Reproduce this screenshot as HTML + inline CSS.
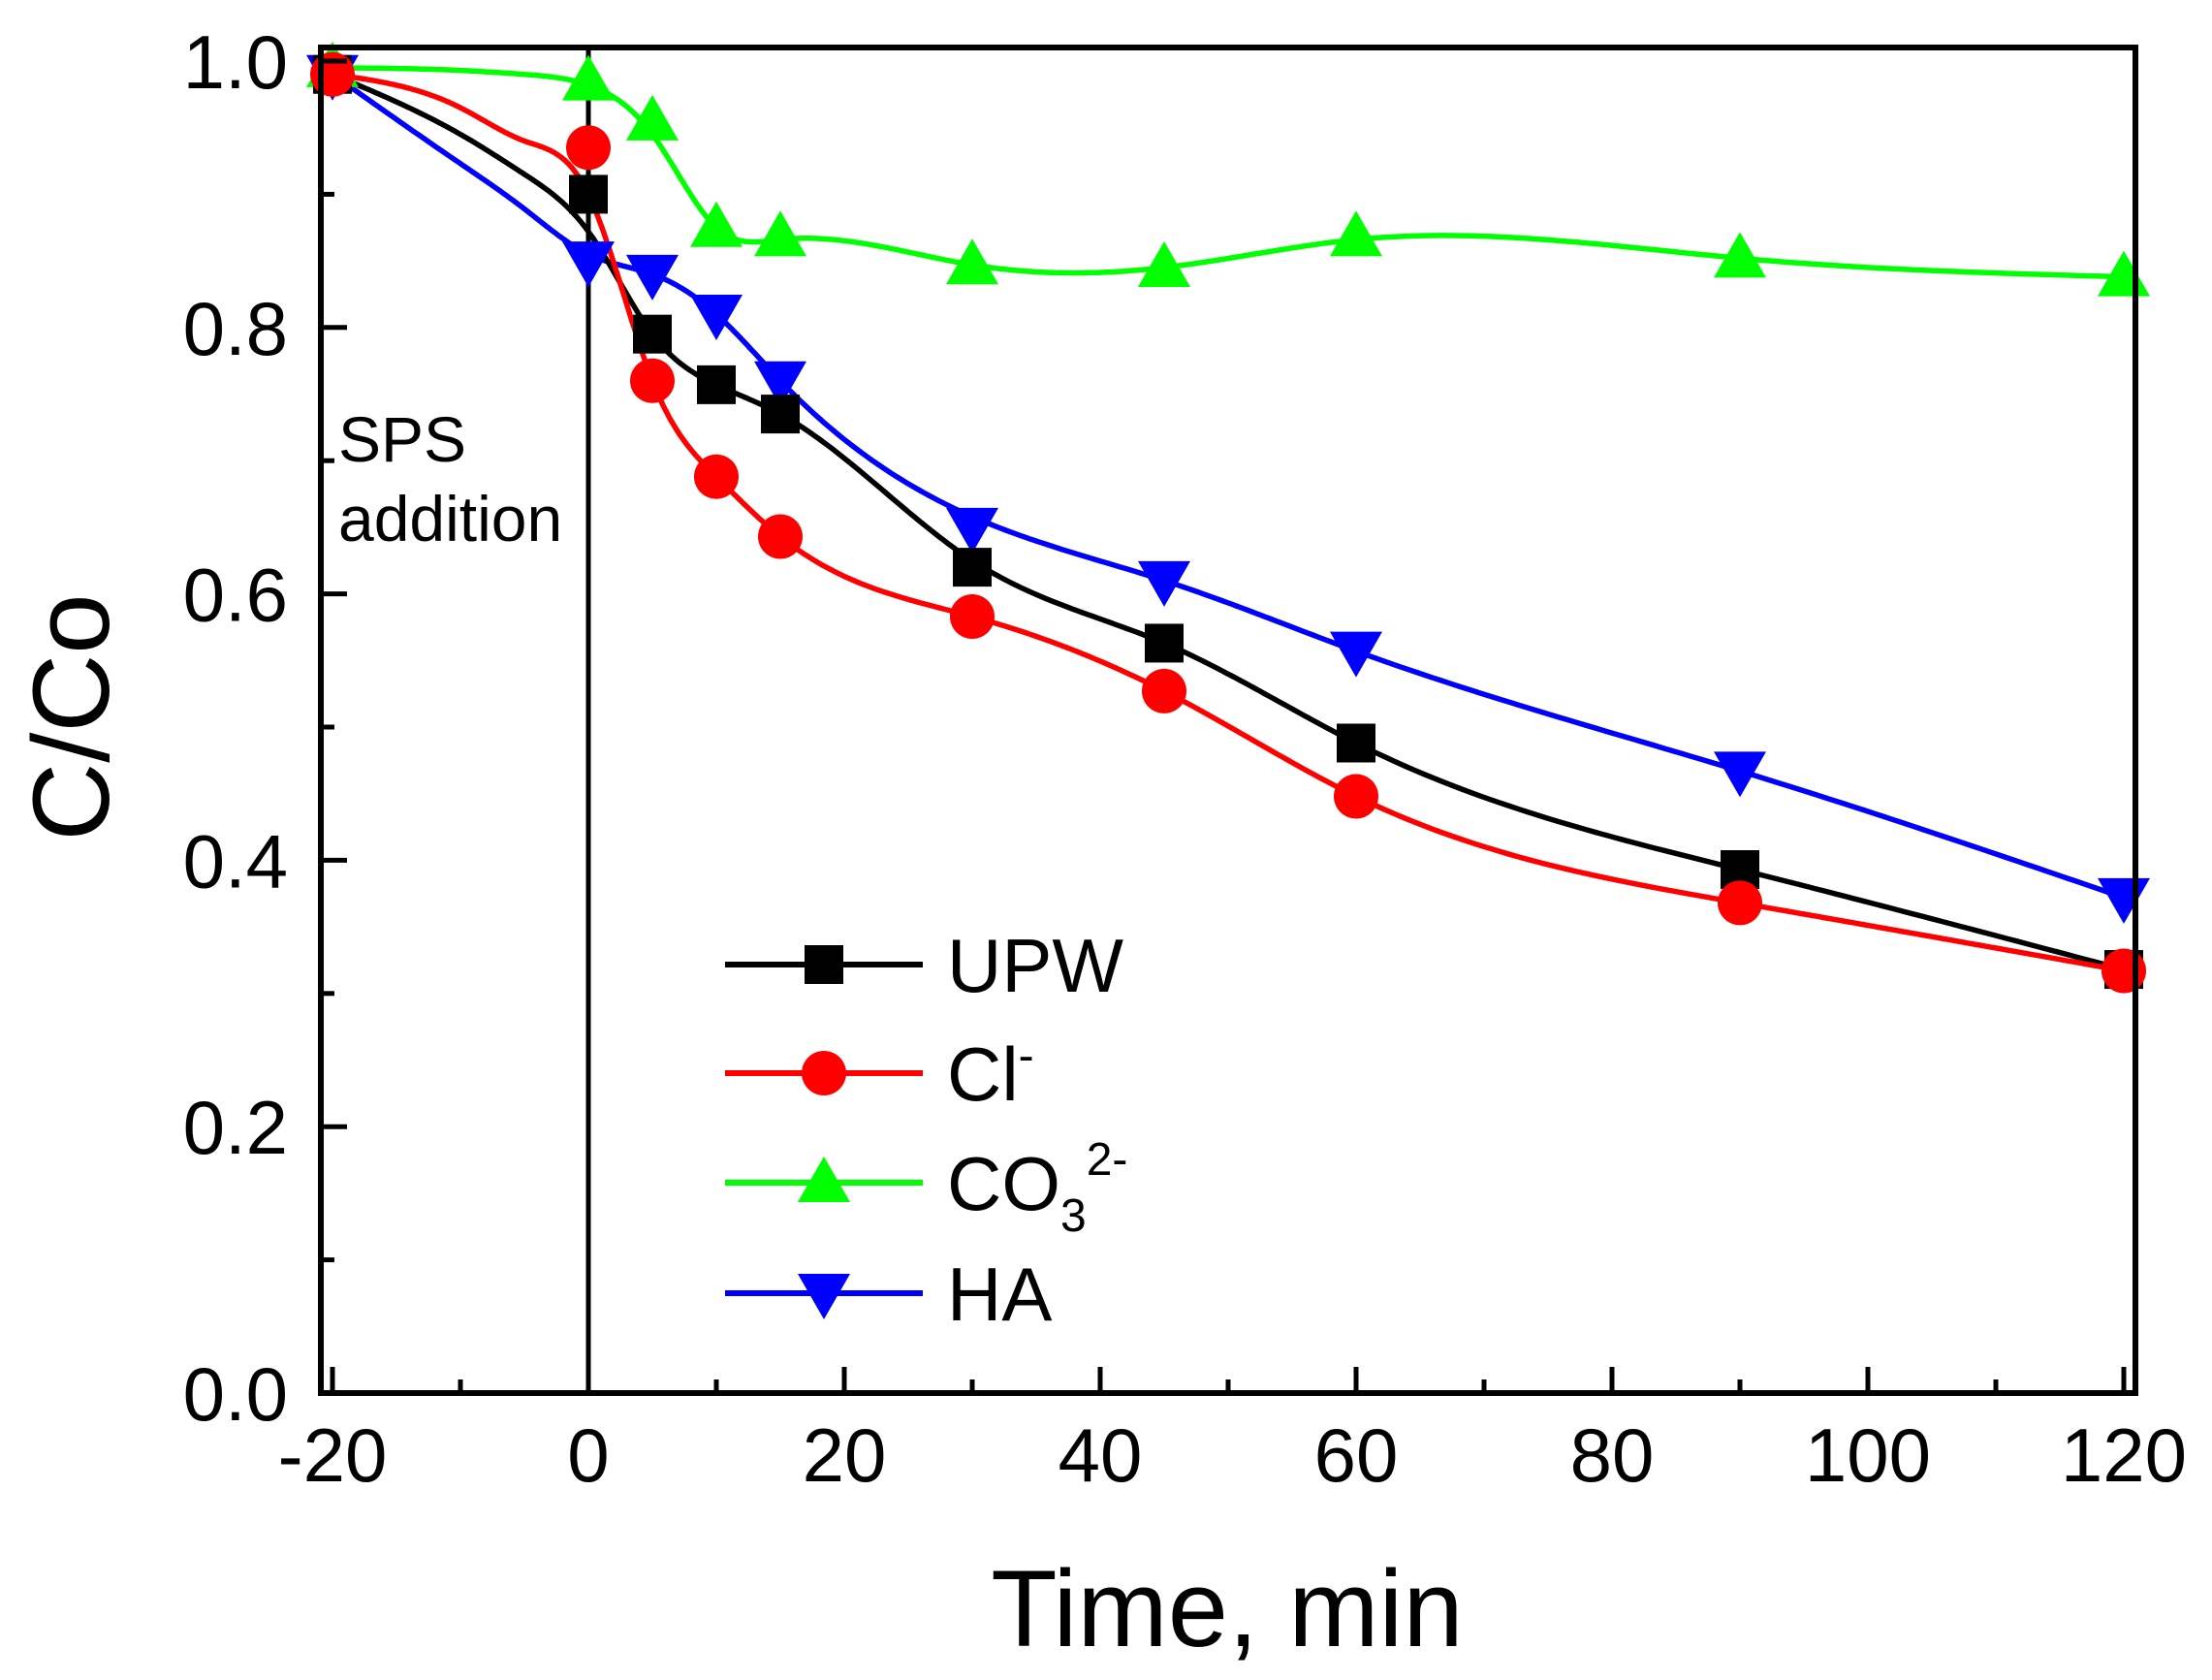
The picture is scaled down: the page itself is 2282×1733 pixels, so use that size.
<!DOCTYPE html>
<html><head><meta charset="utf-8"><style>
html,body{margin:0;padding:0;background:#fff;}
svg{display:block;font-family:"Liberation Sans",Arial,sans-serif;}
</style></head><body>
<svg id="s" width="2282" height="1733" viewBox="0 0 2282 1733" xmlns="http://www.w3.org/2000/svg"></svg>
<script>
const s=document.getElementById('s');
const X=t=>607+13.2*t, Y=v=>1437-1374*v;
let h='';
const ts=[-20,0,5,10,15,30,45,60,90,120];
const cts=[-20,-10,-5,0,5,10,15,30,45,60,90,120];
const S=[
 {c:'#000',m:'sq',v:[0.99,0.90,0.795,0.757,0.735,0.62,0.563,0.488,0.393,0.318],cv:[0.99,0.945,0.915,0.872,0.795,0.757,0.735,0.625,0.563,0.488,0.393,0.318]},
 {c:'#f00',m:'ci',v:[0.99,0.935,0.76,0.688,0.643,0.583,0.527,0.448,0.368,0.317],cv:[0.99,0.965,0.94,0.90,0.76,0.688,0.643,0.583,0.527,0.448,0.368,0.317]},
 {c:'#0f0',m:'up',v:[0.995,0.985,0.955,0.875,0.868,0.847,0.845,0.868,0.852,0.838],cv:[0.995,0.993,0.99,0.982,0.945,0.875,0.866,0.847,0.845,0.866,0.852,0.838]},
 {c:'#00f',m:'dn',v:[0.99,0.85,0.84,0.81,0.76,0.65,0.61,0.557,0.467,0.372],cv:[0.99,0.923,0.889,0.855,0.84,0.81,0.76,0.658,0.61,0.557,0.467,0.372]}
];
function spline(xs,ys){
 const n=xs.length,hh=[],al=[],l=[1],mu=[0],z=[0],c=new Array(n).fill(0),b=[],d=[];
 for(let i=0;i<n-1;i++)hh[i]=xs[i+1]-xs[i];
 for(let i=1;i<n-1;i++)al[i]=3/hh[i]*(ys[i+1]-ys[i])-3/hh[i-1]*(ys[i]-ys[i-1]);
 for(let i=1;i<n-1;i++){l[i]=2*(xs[i+1]-xs[i-1])-hh[i-1]*mu[i-1];mu[i]=hh[i]/l[i];z[i]=(al[i]-hh[i-1]*z[i-1])/l[i];}
 l[n-1]=1;z[n-1]=0;
 for(let j=n-2;j>=0;j--){c[j]=z[j]-mu[j]*c[j+1];b[j]=(ys[j+1]-ys[j])/hh[j]-hh[j]*(c[j+1]+2*c[j])/3;d[j]=(c[j+1]-c[j])/(3*hh[j]);}
 let pts=[];
 for(let j=0;j<n-1;j++){for(let k=0;k<40;k++){const dx=hh[j]*k/40;pts.push([X(xs[j]+dx),Y(ys[j]+b[j]*dx+c[j]*dx*dx+d[j]*dx*dx*dx)]);}}
 pts.push([X(xs[n-1]),Y(ys[n-1])]);
 return 'M'+pts.map(p=>p[0].toFixed(1)+','+p[1].toFixed(1)).join(' L');
}
function mk(m,x,y,c){
 if(m=='sq')return `<rect x="${x-20}" y="${y-20}" width="40" height="40" fill="${c}"/>`;
 if(m=='ci')return `<circle cx="${x}" cy="${y}" r="23" fill="${c}"/>`;
 if(m=='up')return `<polygon points="${x},${y-27} ${x-27},${y+20} ${x+27},${y+20}" fill="${c}"/>`;
 return `<polygon points="${x},${y+27} ${x-27},${y-20} ${x+27},${y-20}" fill="${c}"/>`;
}
h+=`<line x1="607" y1="49" x2="607" y2="1437" stroke="#000" stroke-width="5"/>`;
[2,3,0,1].forEach(i=>{const q=S[i];h+=`<path d="${spline(cts,q.cv)}" fill="none" stroke="${q.c}" stroke-width="5.5" stroke-linejoin="round"/>`;});
[2,3,0,1].forEach(i=>{const q=S[i];ts.forEach((t,j)=>h+=mk(q.m,X(t),Y(q.v[j]),q.c));});
h+=`<rect x="331" y="49" width="1872" height="1388" fill="none" stroke="#000" stroke-width="6"/>`;
for(let t=-20;t<=120;t+=10){const x=X(t),L=(t%20==0)?27:14;h+=`<line x1="${x}" y1="1437" x2="${x}" y2="${1437-L}" stroke="#000" stroke-width="5"/>`;
 if(t%20==0)h+=`<text x="${x}" y="1528" font-size="78" text-anchor="middle">${t}</text>`;}
for(let k=0;k<=10;k++){const v=k/10,y=Y(v),L=(k%2==0)?27:14;h+=`<line x1="331" y1="${y}" x2="${331+L}" y2="${y}" stroke="#000" stroke-width="5"/>`;
 if(k%2==0)h+=`<text x="297" y="${y+28}" font-size="78" text-anchor="end">${v.toFixed(1)}</text>`;}
h+=`<text x="1266" y="1698" font-size="112" text-anchor="middle">Time, min</text>`;
h+=`<text transform="translate(112,740) rotate(-90)" font-size="112" text-anchor="middle">C/Co</text>`;
h+=`<text x="349" y="476" font-size="66">SPS</text><text x="349" y="558" font-size="66">addition</text>`;
const lab=['UPW','Cl<tspan dy="-30" font-size="48">-</tspan>','CO<tspan dy="22" font-size="48">3</tspan><tspan dy="-58" font-size="48">2-</tspan>','HA'];
const ly=[995,1107,1220,1334];
[0,1,2,3].forEach(i=>{const q=S[i],y=ly[i];
 h+=`<line x1="748" y1="${y}" x2="952" y2="${y}" stroke="${q.c}" stroke-width="6"/>`+mk(q.m,850,y,q.c);
 h+=`<text x="977" y="${y+28}" font-size="78">${lab[i]}</text>`;});
s.innerHTML=h;
</script>
</body></html>
